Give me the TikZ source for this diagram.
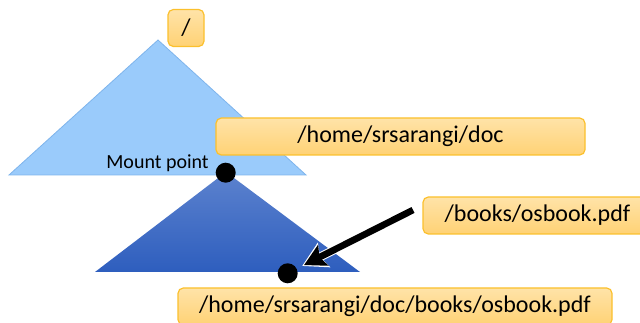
\documentclass[tikz,border=0pt]{standalone}
\usepackage{fontspec}
\setmainfont{Carlito}
\usetikzlibrary{arrows.meta}
\definecolor{lightblue}{HTML}{9ACBFB}
\definecolor{lightblueedge}{HTML}{7EB4EC}
\definecolor{darktop}{HTML}{5C82CE}
\definecolor{darkbot}{HTML}{2E5EBE}
\definecolor{boxtop}{HTML}{FFE3A8}
\definecolor{boxbot}{HTML}{FFD275}
\definecolor{boxedge}{HTML}{FBC02D}
\tikzset{
  pathbox/.style={draw=boxedge, line width=0.9pt, rounded corners=4pt,
    top color=boxtop, bottom color=boxbot, inner sep=0pt,
    minimum height=27.75pt, font=\fontsize{18}{20}\selectfont, text=black},
  mountdot/.style={circle, fill=black, minimum size=15pt, inner sep=0pt},
  bigarrow/.style={line width=5pt, -{Stealth[length=16pt,width=17pt,inset=3pt]}},
  arrowhalo/.style={line width=6.5pt, white, -{Stealth[length=18pt,width=20pt,inset=3pt]}},
}
\begin{document}
\begin{tikzpicture}[x=0.75pt,y=-0.75pt]
\useasboundingbox (0,0) rectangle (640,323);
\clip (0,0) rectangle (640,323);
% upper (root) file system
\fill[lightblue, draw=lightblueedge, line width=0.6pt] (158,40) -- (306,175) -- (9,175) -- cycle;
% mounted file system
\shade[top color=darktop, bottom color=darkbot] (226,172) -- (360,272) -- (95,272) -- cycle;
% labels
\node[pathbox, minimum width=27pt] (root) at (186,28) {/};
\node[pathbox, minimum width=276.75pt] (doc) at (400.5,136.5) {/home/srsarangi/doc};
\node[pathbox, minimum width=171.75pt] (books) at (537.5,215.5) {/books/osbook.pdf};
\node[pathbox, minimum width=325.5pt] (full) at (395,306.5) {/home/srsarangi/doc/books/osbook.pdf};
\node[anchor=base east, inner sep=0pt, font=\fontsize{15}{17}\selectfont] (mplabel) at (209,169) {Mount point};
% points
\node[mountdot] (mp) at (225.7,172.7) {};
\node[mountdot] (file) at (287.7,273.3) {};
% arrow
\coordinate (arrstart) at (413,210);
\draw[arrowhalo, shorten <=0.8pt, shorten >=4.5pt] (arrstart) -- (file);
\draw[bigarrow, shorten >=6pt] (arrstart) -- (file);
\end{tikzpicture}
\end{document}
